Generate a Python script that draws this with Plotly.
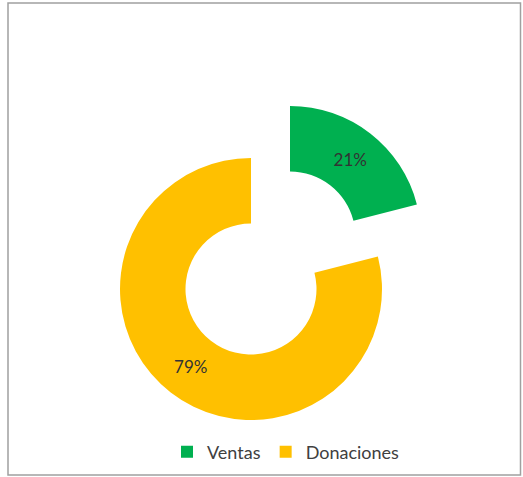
import plotly.graph_objects as go

labels = ["Ventas", "Donaciones"]
values = [21, 79]
colors = ["#00B050", "#FFC000"]
pct_text = ["21%", "79%"]

W, H = 523, 477

def px_domain(cx, cy, r):
    return dict(x=[(cx - r) / W, (cx + r) / W],
                y=[(H - (cy + r)) / H, (H - (cy - r)) / H])

R = 131
main_center = (251, 289)
pulled_center = (290, 237)

transparent = "rgba(0,0,0,0)"

fig = go.Figure()

# Main ring (Donaciones visible)
fig.add_trace(go.Pie(
    labels=labels, values=values, sort=False, direction="clockwise", rotation=0,
    hole=0.5,
    marker=dict(colors=[transparent, colors[1]], line=dict(width=0)),
    text=["", pct_text[1]], textinfo="text", textposition="inside",
    insidetextorientation="horizontal",
    textfont=dict(family="Lato, sans-serif", size=17, color="#333333"),
    domain=px_domain(main_center[0], main_center[1], R),
    showlegend=False, hoverinfo="label+percent",
))

# Exploded slice (Ventas visible)
fig.add_trace(go.Pie(
    labels=labels, values=values, sort=False, direction="clockwise", rotation=0,
    hole=0.5,
    marker=dict(colors=[colors[0], transparent], line=dict(width=0)),
    text=[pct_text[0], ""], textinfo="text", textposition="inside",
    insidetextorientation="horizontal",
    textfont=dict(family="Lato, sans-serif", size=17, color="#333333"),
    domain=px_domain(pulled_center[0], pulled_center[1], R),
    showlegend=False, hoverinfo="label+percent",
))

# Legend entries
for lab, col in zip(labels, colors):
    fig.add_trace(go.Scatter(
        x=[None], y=[None], mode="markers", name=lab,
        marker=dict(symbol="square", size=10, color=col),
        showlegend=True,
    ))

fig.update_layout(
    width=W, height=H,
    margin=dict(l=0, r=0, t=0, b=0),
    paper_bgcolor="white", plot_bgcolor="white",
    xaxis=dict(visible=False), yaxis=dict(visible=False),
    legend=dict(orientation="h", x=167 / W, xanchor="left", y=(H - 452) / H, yanchor="middle",
                font=dict(family="Lato, sans-serif", size=18, color="#404040"),
                bgcolor="rgba(0,0,0,0)", itemsizing="constant"),
    shapes=[dict(type="rect", xref="paper", yref="paper",
                 x0=8 / W, x1=520.5 / W, y0=2 / H, y1=(H - 3) / H,
                 line=dict(color="#A0A0A0", width=1.5), fillcolor="rgba(0,0,0,0)")],
)

fig.write_html("out.html",
               config={"displayModeBar": False},
               post_script="document.body.style.margin='0';document.body.style.overflow='hidden';")
